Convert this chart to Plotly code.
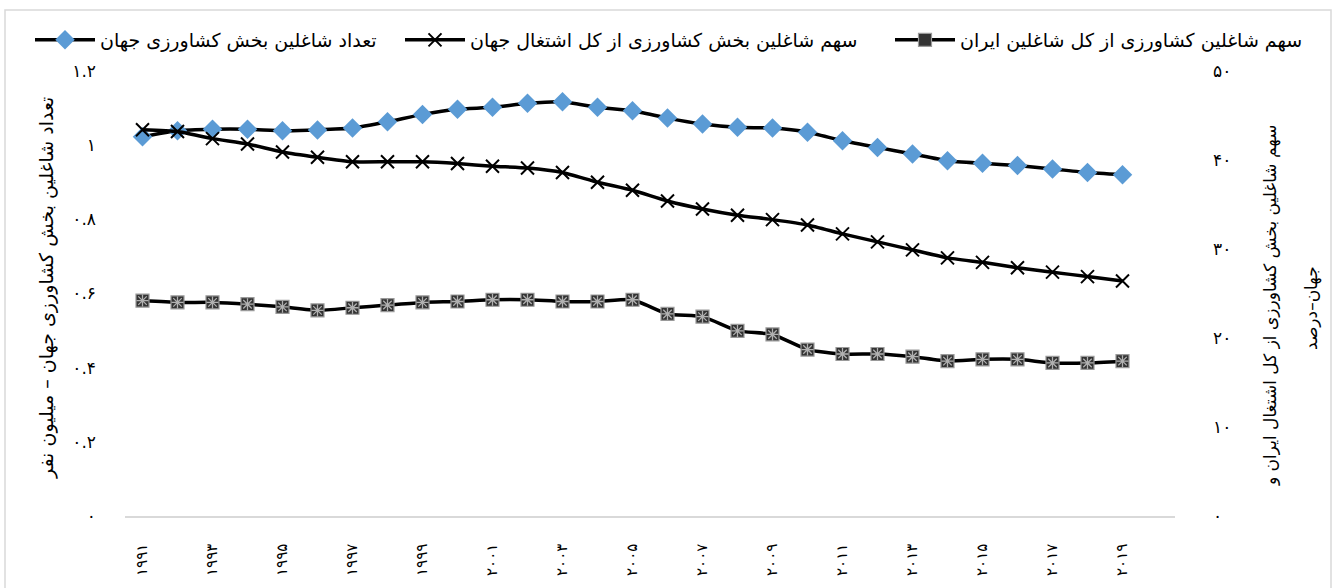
import plotly.graph_objects as go

years = list(range(1991, 2020))

world_ag_workers = [1.023, 1.039, 1.043, 1.043, 1.039, 1.041, 1.046, 1.063, 1.083, 1.097,
                    1.102, 1.113, 1.117, 1.102, 1.093, 1.073, 1.057, 1.048, 1.046, 1.035,
                    1.012, 0.994, 0.976, 0.958, 0.951, 0.945, 0.936, 0.926, 0.920]

world_ag_share = [43.4, 43.2, 42.4, 41.8, 40.9, 40.3, 39.8, 39.8, 39.8, 39.6,
                  39.3, 39.1, 38.6, 37.5, 36.6, 35.4, 34.5, 33.8, 33.3, 32.7,
                  31.7, 30.8, 29.9, 29.0, 28.5, 27.9, 27.4, 26.9, 26.4]

iran_ag_share = [24.2, 24.0, 24.0, 23.8, 23.5, 23.1, 23.4, 23.7, 24.0, 24.1,
                 24.3, 24.3, 24.1, 24.1, 24.3, 22.7, 22.4, 20.8, 20.4, 18.7,
                 18.2, 18.2, 17.9, 17.4, 17.6, 17.6, 17.2, 17.2, 17.4]

x_tick_vals = list(range(1991, 2020, 2))
x_tick_labels = ["۱۹۹۱", "۱۹۹۳", "۱۹۹۵", "۱۹۹۷", "۱۹۹۹", "۲۰۰۱", "۲۰۰۳", "۲۰۰۵",
                 "۲۰۰۷", "۲۰۰۹", "۲۰۱۱", "۲۰۱۳", "۲۰۱۵", "۲۰۱۷", "۲۰۱۹"]
left_tick_vals = [0, 0.2, 0.4, 0.6, 0.8, 1.0, 1.2]
left_tick_labels = ["۰", "۰.۲", "۰.۴", "۰.۶", "۰.۸", "۱", "۱.۲"]
right_tick_vals = [0, 10, 20, 30, 40, 50]
right_tick_labels = ["۰", "۱۰", "۲۰", "۳۰", "۴۰", "۵۰"]

name_workers = "تعداد شاغلین بخش کشاورزی جهان"
name_world = "سهم شاغلین بخش کشاورزی از کل اشتغال جهان"
name_iran = "سهم شاغلین کشاورزی از کل شاغلین ایران"
left_title = "تعداد شاغلین بخش کشاورزی جهان – میلیون نفر"
right_title_1 = "سهم شاغلین بخش کشاورزی از کل اشتغال ایران و"
right_title_2 = "جهان–درصد"

FONT = "DejaVu Sans"
W, H = 1336, 588
L, R, T, B = 125, 161, 71, 72
PW = W - L - R
PH = H - T - B


def px(x):
    return (x - L) / PW


def py(y):
    return (H - B - y) / PH


line_style = dict(color="black", width=3.5, shape="spline", smoothing=0.5)

fig = go.Figure()
fig.add_trace(go.Scatter(
    x=years, y=world_ag_workers, name=name_workers, mode="lines+markers",
    line=line_style, legend="legend",
    marker=dict(symbol="diamond", size=15, color="#5B9BD5", line=dict(width=0)),
    yaxis="y"))
fig.add_trace(go.Scatter(
    x=years, y=world_ag_share, name=name_world, mode="lines+markers",
    line=line_style, legend="legend2",
    marker=dict(symbol="x-thin-open", size=13, color="black",
                line=dict(width=2, color="black")),
    yaxis="y2"))
fig.add_trace(go.Scatter(
    x=years, y=iran_ag_share, name=name_iran, mode="lines+markers",
    line=line_style, legend="legend3",
    marker=dict(symbol="square", size=13, color="#333333",
                line=dict(width=1.2, color="#9a9a9a")),
    yaxis="y2"))
fig.add_trace(go.Scatter(
    x=years, y=iran_ag_share, mode="markers", showlegend=False, hoverinfo="skip",
    marker=dict(symbol="asterisk-open", size=10, color="#b0b0b0",
                line=dict(width=1.3, color="#b0b0b0")),
    yaxis="y2"))

leg_common = dict(orientation="h", yanchor="middle", xanchor="left",
                  font=dict(family=FONT, size=19, color="black"),
                  itemwidth=60, bgcolor="rgba(0,0,0,0)", borderwidth=0)

fig.update_layout(
    width=W, height=H,
    margin=dict(l=L, r=R, t=T, b=B, autoexpand=False),
    paper_bgcolor="white", plot_bgcolor="white",
    font=dict(family=FONT, size=15, color="black"),
    showlegend=True,
    legend=dict(x=px(30), y=py(40), **leg_common),
    legend2=dict(x=px(400), y=py(40), **leg_common),
    legend3=dict(x=px(890), y=py(40), **leg_common),
    xaxis=dict(range=[1990.5, 2020.5], tickmode="array", tickvals=x_tick_vals,
               ticktext=x_tick_labels, tickangle=-90, showgrid=False, zeroline=False,
               showline=True, linecolor="#D9D9D9", linewidth=1.5, ticks="",
               ticklabelstandoff=20, tickfont=dict(family=FONT, size=15)),
    yaxis=dict(range=[0, 1.2], tickmode="array", tickvals=left_tick_vals,
               ticktext=left_tick_labels, showgrid=False, zeroline=False,
               showline=False, ticks="", ticklabelstandoff=28,
               tickfont=dict(family=FONT, size=17)),
    yaxis2=dict(range=[0, 50], overlaying="y", side="right", tickmode="array",
                tickvals=right_tick_vals, ticktext=right_tick_labels, showgrid=False,
                zeroline=False, showline=False, ticks="", ticklabelstandoff=37,
                tickfont=dict(family=FONT, size=17)),
    shapes=[dict(type="rect", xref="paper", yref="paper",
                 x0=px(5), x1=px(1331), y0=py(600), y1=py(10),
                 line=dict(color="#D9D9D9", width=1.5), fillcolor="rgba(0,0,0,0)",
                 layer="below")],
    annotations=[
        dict(text=left_title, xref="paper", yref="paper", x=px(46), y=py(288),
             textangle=-90, showarrow=False, xanchor="center", yanchor="middle",
             font=dict(family=FONT, size=19)),
        dict(text=right_title_1, xref="paper", yref="paper", x=px(1270), y=py(306),
             textangle=-90, showarrow=False, xanchor="center", yanchor="middle",
             font=dict(family=FONT, size=17)),
        dict(text=right_title_2, xref="paper", yref="paper", x=px(1311), y=py(308),
             textangle=-90, showarrow=False, xanchor="center", yanchor="middle",
             font=dict(family=FONT, size=17)),
    ],
)

fig.write_html("out.html", config={"displayModeBar": False},
               post_script="document.body.style.margin='0px';")
